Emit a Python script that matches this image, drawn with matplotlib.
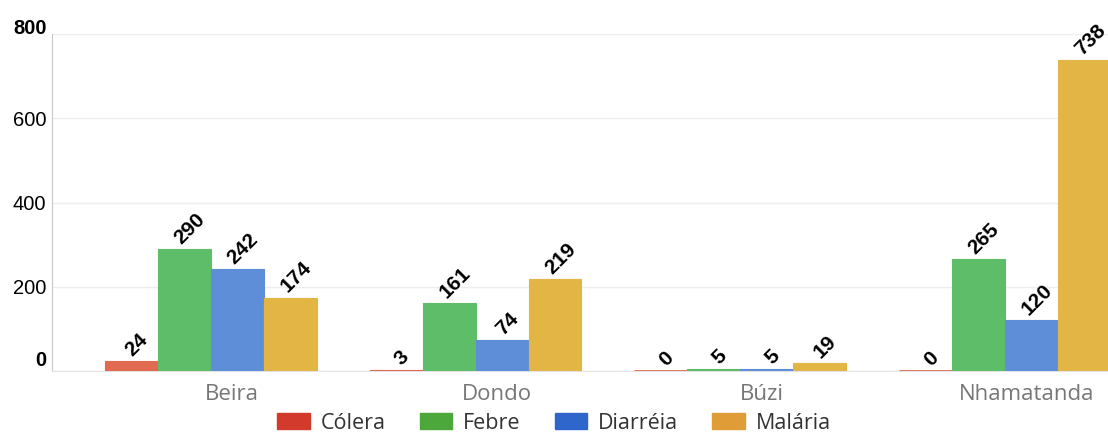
import matplotlib.pyplot as plt
import matplotlib.transforms as mtransforms
from matplotlib.patches import Patch
import numpy as np

# dados
distritos = ['Beira', 'Dondo', 'Búzi', 'Nhamatanda']
doencas = ['Cólera', 'Febre', 'Diarréia', 'Malária']
colera = [24, 3, 0, 0]
febre = [290, 161, 5, 265]
diarreia = [242, 74, 5, 120]
malaria = [174, 219, 19, 738]
valores = [colera, febre, diarreia, malaria]

cores_barra = ['#E06B50', '#5EBD68', '#5F8ED8', '#E2B545']
cores_legenda = ['#D23B2B', '#4CA83B', '#2F66CC', '#E09C36']

plt.rcParams['font.family'] = ['Liberation Sans', 'DejaVu Sans']

fig = plt.figure(figsize=(11.08, 4.37), dpi=100)
ax = fig.add_axes([52 / 1108, 66 / 437, 1 - 52 / 1108, 337 / 437])

x = np.arange(len(distritos)) * 5
w = 1.0
for k in range(4):
    pos = x + (k - 1.5) * w
    ax.bar(pos, valores[k], width=w, color=cores_barra[k],
           edgecolor=cores_barra[k], linewidth=0.8, zorder=3)
    # linha fina na base (aparece mesmo com valor 0)
    ax.hlines([0] * len(pos), pos - w / 2, pos + w / 2, color=cores_barra[k],
              linewidth=2, zorder=4)
    for p, v in zip(pos, valores[k]):
        ax.annotate(str(v), (p, v), xytext=(4, 1), textcoords='offset points',
                    ha='center', va='bottom', rotation=45,
                    fontsize=15, fontweight='bold', color='black', zorder=5)

ax.set_xlim(-3, (1108 - 210) / 53)
ax.set_ylim(0, 800)
ax.set_yticks([0, 200, 400, 600, 800])
ax.set_yticklabels(['0', '200', '400', '600', '800'])
ax.tick_params(axis='y', length=0, labelsize=14.5, labelcolor='black', pad=4)
ax.grid(axis='y', color='#EEEEEE', linewidth=1, zorder=0)

ax.set_xticks(x + 0.4)
ax.set_xticklabels(distritos, fontfamily='Open Sans', fontsize=16, color='#777777')
ax.tick_params(axis='x', length=0, pad=9)

for lab in ax.get_yticklabels():
    if lab.get_text() in ('0', '800'):
        lab.set_fontweight('bold')
        dy = 12 if lab.get_text() == '0' else 8
        lab.set_transform(lab.get_transform() +
                          mtransforms.ScaledTranslation(0, dy / 100, fig.dpi_scale_trans))

for s in ['top', 'right']:
    ax.spines[s].set_visible(False)
ax.spines['left'].set_color('#C8C8C8')
ax.spines['bottom'].set_color('#E4E4E4')

handles = [Patch(facecolor=c, edgecolor=c) for c in cores_legenda]
fig.legend(handles, doencas, loc='center', bbox_to_anchor=(0.5, 0.032), ncol=4,
           frameon=False, prop={'family': 'Open Sans', 'size': 15.5},
           labelcolor='#333333', handlelength=1.5, handleheight=0.8,
           handletextpad=0.5, columnspacing=1.6, borderpad=0.2)

fig.savefig('out.png', dpi=100)
